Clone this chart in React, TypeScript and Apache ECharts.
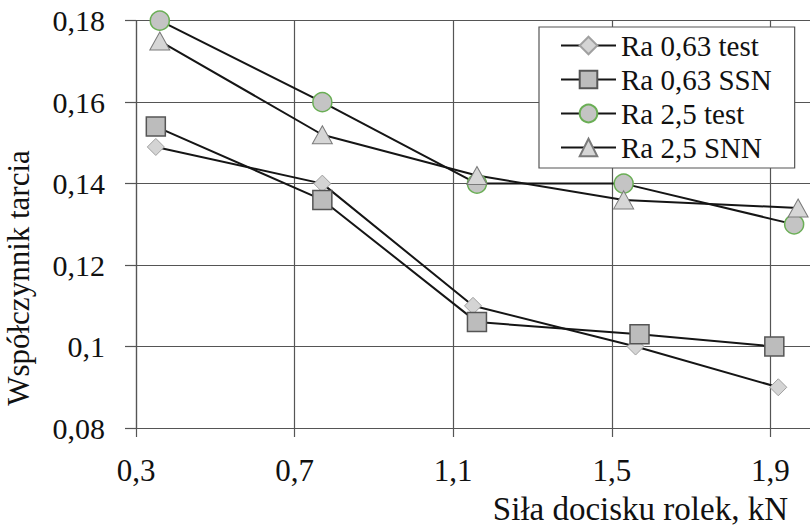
import React, { useEffect, useRef } from "react";
import * as echarts from "echarts";

const seriesNames = ["Ra 0,63 test", "Ra 0,63 SSN", "Ra 2,5 test", "Ra 2,5 SNN"];
const xRa063Test = [0.35, 0.77, 1.15, 1.56, 1.92];
const yRa063Test = [0.149, 0.14, 0.11, 0.1, 0.09];
const xRa063Ssn = [0.35, 0.77, 1.16, 1.57, 1.91];
const yRa063Ssn = [0.154, 0.136, 0.106, 0.103, 0.1];
const xRa25Test = [0.36, 0.77, 1.16, 1.53, 1.96];
const yRa25Test = [0.18, 0.16, 0.14, 0.14, 0.13];
const xRa25Snn = [0.36, 0.77, 1.16, 1.53, 1.97];
const yRa25Snn = [0.175, 0.152, 0.142, 0.136, 0.134];

const xTicks = [0.3, 0.7, 1.1, 1.5, 1.9];
const yTicks = [0.08, 0.1, 0.12, 0.14, 0.16, 0.18];
const xAxisTitle = "Siła docisku rolek, kN";
const yAxisTitle = "Współczynnik tarcia";

const FONT = "Liberation Serif";
const GRID_COLOR = "#555555";
const LINE_COLOR = "#151515";

const fmt = (v: number) => String(Math.round(v * 100) / 100).replace(".", ",");
const pairs = (xs: number[], ys: number[]) => xs.map((x, i) => [x, ys[i]]);

export default function App() {
  const ref = useRef<HTMLDivElement>(null);
  useEffect(() => {
    if (!ref.current) return;
    const chart = echarts.init(ref.current, null, { renderer: "svg" });
    const mk = (
      name: string,
      data: number[][],
      symbol: string,
      symbolSize: number | number[],
      fill: string,
      border: string,
      bw: number
    ) => ({
      name,
      type: "line",
      data,
      symbol,
      symbolSize,
      showAllSymbol: true,
      clip: false,
      lineStyle: { color: LINE_COLOR, width: 2 },
      itemStyle: { color: fill, borderColor: border, borderWidth: bw, opacity: 1 },
      emphasis: { disabled: true },
    });
    chart.setOption({
      animation: false,
      backgroundColor: "#ffffff",
      textStyle: { fontFamily: FONT },
      grid: { left: 136, top: 20.7, right: -8, bottom: 99, containLabel: false },
      xAxis: {
        type: "value",
        min: 0.3,
        max: 2.0,
        axisLine: { show: true, lineStyle: { color: GRID_COLOR, width: 1.2 } },
        axisTick: { show: true, length: 9, inside: false, customValues: xTicks, lineStyle: { color: GRID_COLOR, width: 1.2 } },
        axisLabel: {
          customValues: xTicks,
          formatter: fmt,
          fontFamily: FONT,
          fontSize: 31,
          color: "#111",
          margin: 27,
        },
        splitLine: { show: true, lineStyle: { color: GRID_COLOR, width: 1.2 } },
      },
      yAxis: {
        type: "value",
        min: 0.08,
        max: 0.18,
        axisLine: { show: true, lineStyle: { color: GRID_COLOR, width: 1.2 } },
        axisTick: { show: true, length: 11, inside: false, customValues: yTicks, lineStyle: { color: GRID_COLOR, width: 1.2 } },
        axisLabel: {
          customValues: yTicks,
          formatter: fmt,
          fontFamily: FONT,
          fontSize: 30,
          color: "#111",
          margin: 31,
        },
        splitLine: { show: true, lineStyle: { color: GRID_COLOR, width: 1.2 } },
      },
      legend: {
        orient: "vertical",
        left: 539,
        top: 27,
        padding: [4, 23, 6, 21],
        itemGap: 5,
        itemWidth: 55,
        itemHeight: 22,
        backgroundColor: "#ffffff",
        borderColor: GRID_COLOR,
        borderWidth: 1.2,
        borderRadius: 0,
        textStyle: { fontFamily: FONT, fontSize: 29, color: "#111" },
        data: seriesNames,
      },
      graphic: [
        {
          type: "text",
          x: 18,
          y: 278,
          rotation: Math.PI / 2,
          style: { text: yAxisTitle, font: `31px "${FONT}"`, fill: "#111", align: "center", verticalAlign: "middle" },
        },
        {
          type: "text",
          x: 788,
          y: 509,
          style: { text: xAxisTitle, font: `33px "${FONT}"`, fill: "#111", align: "right", verticalAlign: "middle" },
        },
      ],
      series: [
        mk(seriesNames[0], pairs(xRa063Test, yRa063Test), "diamond", 17, "#d4d4d4", "#a0a0a0", 1),
        mk(seriesNames[1], pairs(xRa063Ssn, yRa063Ssn), "rect", 19, "#bcbcbc", "#555555", 1.5),
        mk(seriesNames[2], pairs(xRa25Test, yRa25Test), "circle", 19, "#c4c4c4", "#6aae55", 1.5),
        mk(seriesNames[3], pairs(xRa25Snn, yRa25Snn), "triangle", [20, 18], "#d6d6d6", "#7a7a7a", 1),
      ],
    });
    return () => chart.dispose();
  }, []);
  return <div ref={ref} style={{ position: "fixed", left: 0, top: 0, width: 810, height: 527 }} />;
}
